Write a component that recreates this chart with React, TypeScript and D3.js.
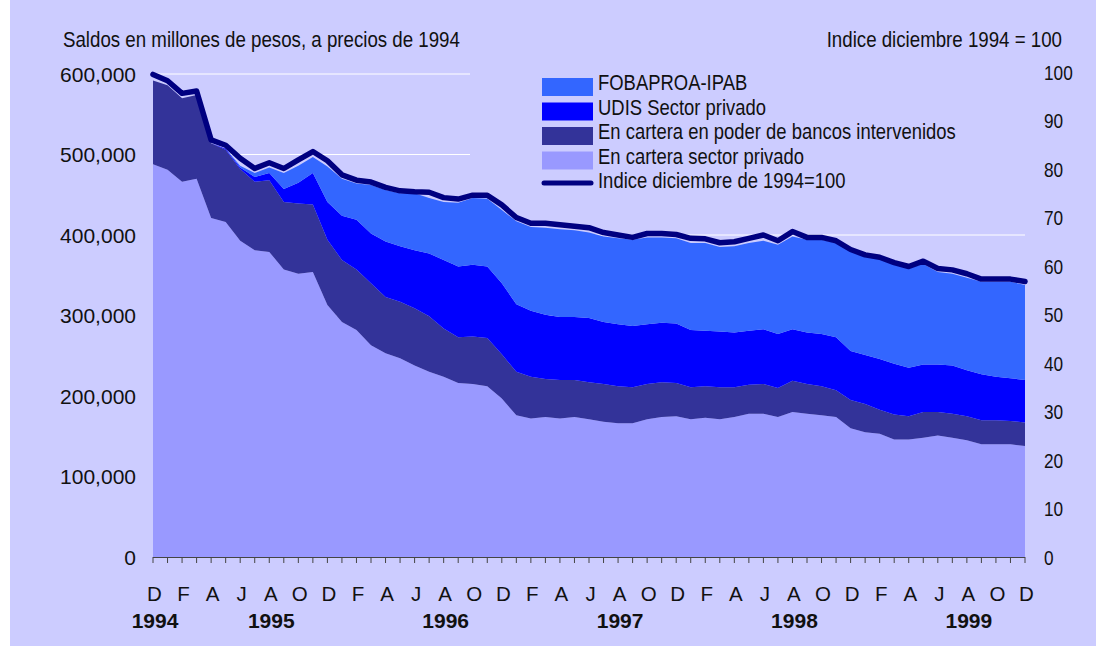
import React from 'react';
import * as d3 from 'd3';

const categories = [
  'dic-94','ene-95','feb-95','mar-95','abr-95','may-95','jun-95','jul-95','ago-95','sep-95','oct-95','nov-95',
  'dic-95','ene-96','feb-96','mar-96','abr-96','may-96','jun-96','jul-96','ago-96','sep-96','oct-96','nov-96',
  'dic-96','ene-97','feb-97','mar-97','abr-97','may-97','jun-97','jul-97','ago-97','sep-97','oct-97','nov-97',
  'dic-97','ene-98','feb-98','mar-98','abr-98','may-98','jun-98','jul-98','ago-98','sep-98','oct-98','nov-98',
  'dic-98','ene-99','feb-99','mar-99','abr-99','may-99','jun-99','jul-99','ago-99','sep-99','oct-99','nov-99',
  'dic-99'
];

// miles de millones de pesos (x1000 = millones)
const sectorPrivado = [488,481,466,470,421,416,393,381,379,357,352,354,313,292,282,263,253,247,238,230,224,216,215,212,197,176,172,174,172,174,171,168,166,166,171,174,175,171,173,171,174,178,178,174,180,178,176,174,160,155,153,146,146,148,151,148,145,140,140,140,138];
const bancosIntervenidos = [104,105,104,104,93,90,89,85,89,84,87,84,81,77,75,77,70,70,71,69,60,57,59,60,55,54,52,47,48,46,46,47,46,45,44,43,41,40,39,40,37,36,37,36,39,37,36,33,35,35,30,31,29,32,29,30,30,30,30,29,29];
const udisSectorPrivado = [0,0,0,0,0,1,2,6,9,16,26,39,47,55,62,62,69,69,72,78,85,88,89,89,88,84,82,80,78,78,80,77,77,76,74,74,74,71,69,69,68,67,68,67,64,64,65,66,61,61,63,63,60,59,59,60,57,57,54,53,53];
const fobaproa = [0,0,0,0,0,0,2,5,7,20,21,20,44,46,45,60,64,66,71,69,72,79,83,84,91,103,104,108,109,108,106,106,107,107,108,106,106,108,109,105,107,109,110,111,115,115,117,117,125,123,125,125,124,125,115,114,115,115,118,120,118];
const indice = [99.5,98.2,95.6,96.1,86.0,84.9,82.2,80.1,81.3,80.1,81.9,83.6,81.7,78.8,77.7,77.3,76.2,75.5,75.3,75.2,74.1,73.8,74.6,74.6,72.6,70.0,68.8,68.8,68.5,68.2,67.9,66.9,66.4,65.9,66.7,66.7,66.5,65.7,65.6,64.8,65.0,65.7,66.4,65.2,67.1,65.9,65.9,65.2,63.4,62.3,61.8,60.7,59.9,61.0,59.5,59.2,58.4,57.3,57.3,57.3,56.8];

const tickLetters = ['D','F','A','J','A','O','D','F','A','J','A','O','D','F','A','J','A','O','D','F','A','J','A','O','D','F','A','J','A','O','D'];
const yearLabels = ['1994','1995','1996','1997','1998','1999'];
const yearAt = ['dic-94','ago-95','ago-96','ago-97','ago-98','ago-99'];
const leftTicks = [0,100000,200000,300000,400000,500000,600000];
const rightTicks = [0,10,20,30,40,50,60,70,80,90,100];

const seriesNames = ['En cartera sector privado','En cartera en poder de bancos intervenidos','UDIS Sector privado','FOBAPROA-IPAB'];
const seriesColors = ['#9999FF','#333399','#0000FF','#3366FF'];
const lineName = 'Indice diciembre de 1994=100';

const BG = '#CCCCFF';
const SANS = "'Liberation Sans',Arial,sans-serif";

function NarrowText(props: { x: number; y: number; size: number; k?: number; anchor?: string; children: any }) {
  const { x, y, size, anchor, children } = props;
  const k = props.k || 0.82;
  return (
    <g transform={`translate(${x},${y}) scale(${k},1)`}>
      <text x={0} y={0} fontFamily={SANS} fontSize={size} fill="#111" textAnchor={anchor || 'start'}>{children}</text>
    </g>
  );
}

export default function App() {
  const x = d3.scalePoint<string>().domain(categories).range([153, 1025]);
  const y = d3.scaleLinear().domain([0, 600000]).range([557, 74]);
  const yR = d3.scaleLinear().domain([0, 100]).range([557, 72]);

  const keys = ['sp', 'bi', 'ud', 'fo'];
  const rows = categories.map((c, i) => ({
    c,
    sp: sectorPrivado[i] * 1000,
    bi: bancosIntervenidos[i] * 1000,
    ud: udisSectorPrivado[i] * 1000,
    fo: fobaproa[i] * 1000,
  }));
  const stacked = d3.stack<any>().keys(keys)(rows);
  const area = d3.area<any>()
    .x((d) => x(d.data.c) as number)
    .y0((d) => y(d[0]))
    .y1((d) => y(d[1]));
  const line = d3.line<number>()
    .x((_, i) => x(categories[i]) as number)
    .y((d) => yR(d));

  const legendOrder = [3, 2, 1, 0];
  const legendBase = [90, 114.5, 139, 163.5];

  return (
    <svg width={1096} height={646} style={{ position: 'absolute', left: 0, top: 0, display: 'block' }}>
      <rect x={10} y={0} width={1086} height={646} fill={BG} />
      <NarrowText x={63} y={47} size={22} k={0.85}>Saldos en millones de pesos, a precios de 1994</NarrowText>
      <NarrowText x={1062} y={47} size={22} k={0.85} anchor="end">Indice diciembre 1994 = 100</NarrowText>

      {leftTicks.filter((t) => t > 0).map((t) => (
        <line key={'g' + t} x1={153} x2={1025} y1={y(t)} y2={y(t)} stroke="#FFFFFF" strokeWidth={1} />
      ))}
      <rect x={470} y={60} width={560} height={130} fill={BG} />

      {stacked.map((s, k) => (
        <path key={keys[k]} d={area(s) as string} fill={seriesColors[k]} />
      ))}
      <path d={line(indice) as string} fill="none" stroke="#000080" strokeWidth={5.5} strokeLinejoin="round" strokeLinecap="round" />

      <line x1={153} x2={1025} y1={557.5} y2={557.5} stroke="#444" strokeWidth={1} />
      {categories.map((c) => (
        <line key={'t' + c} x1={(x(c) as number)} x2={(x(c) as number)} y1={557} y2={563} stroke="#444" strokeWidth={1} />
      ))}
      {tickLetters.map((t, j) => (
        <text key={'m' + j} x={(x(categories[j * 2]) as number) + 1.5} y={601} fontFamily={SANS} fontSize={20.5} textAnchor="middle" fill="#111">{t}</text>
      ))}
      {yearLabels.map((yl, j) => (
        <text key={'y' + yl} x={(x(yearAt[j]) as number) + 2} y={628} fontFamily={SANS} fontSize={21} fontWeight="bold" textAnchor="middle" fill="#111">{yl}</text>
      ))}

      {leftTicks.map((t) => (
        <text key={'l' + t} x={136} y={y(t) + 7.5} fontFamily={SANS} fontSize={21} textAnchor="end" fill="#111">{d3.format(',')(t)}</text>
      ))}
      {rightTicks.map((t) => (
        <NarrowText key={'r' + t} x={1044} y={yR(t) + 7.5} size={21}>{t}</NarrowText>
      ))}

      {legendOrder.map((k, j) => (
        <g key={'lg' + k}>
          <rect x={542} y={legendBase[j] - 12} width={51} height={18} fill={seriesColors[k]} />
          <NarrowText x={598} y={legendBase[j]} size={22.5}>{seriesNames[k]}</NarrowText>
        </g>
      ))}
      <line x1={544} x2={591} y1={183} y2={183} stroke="#000080" strokeWidth={5} strokeLinecap="round" />
      <NarrowText x={598} y={188} size={22.5}>{lineName}</NarrowText>
    </svg>
  );
}
